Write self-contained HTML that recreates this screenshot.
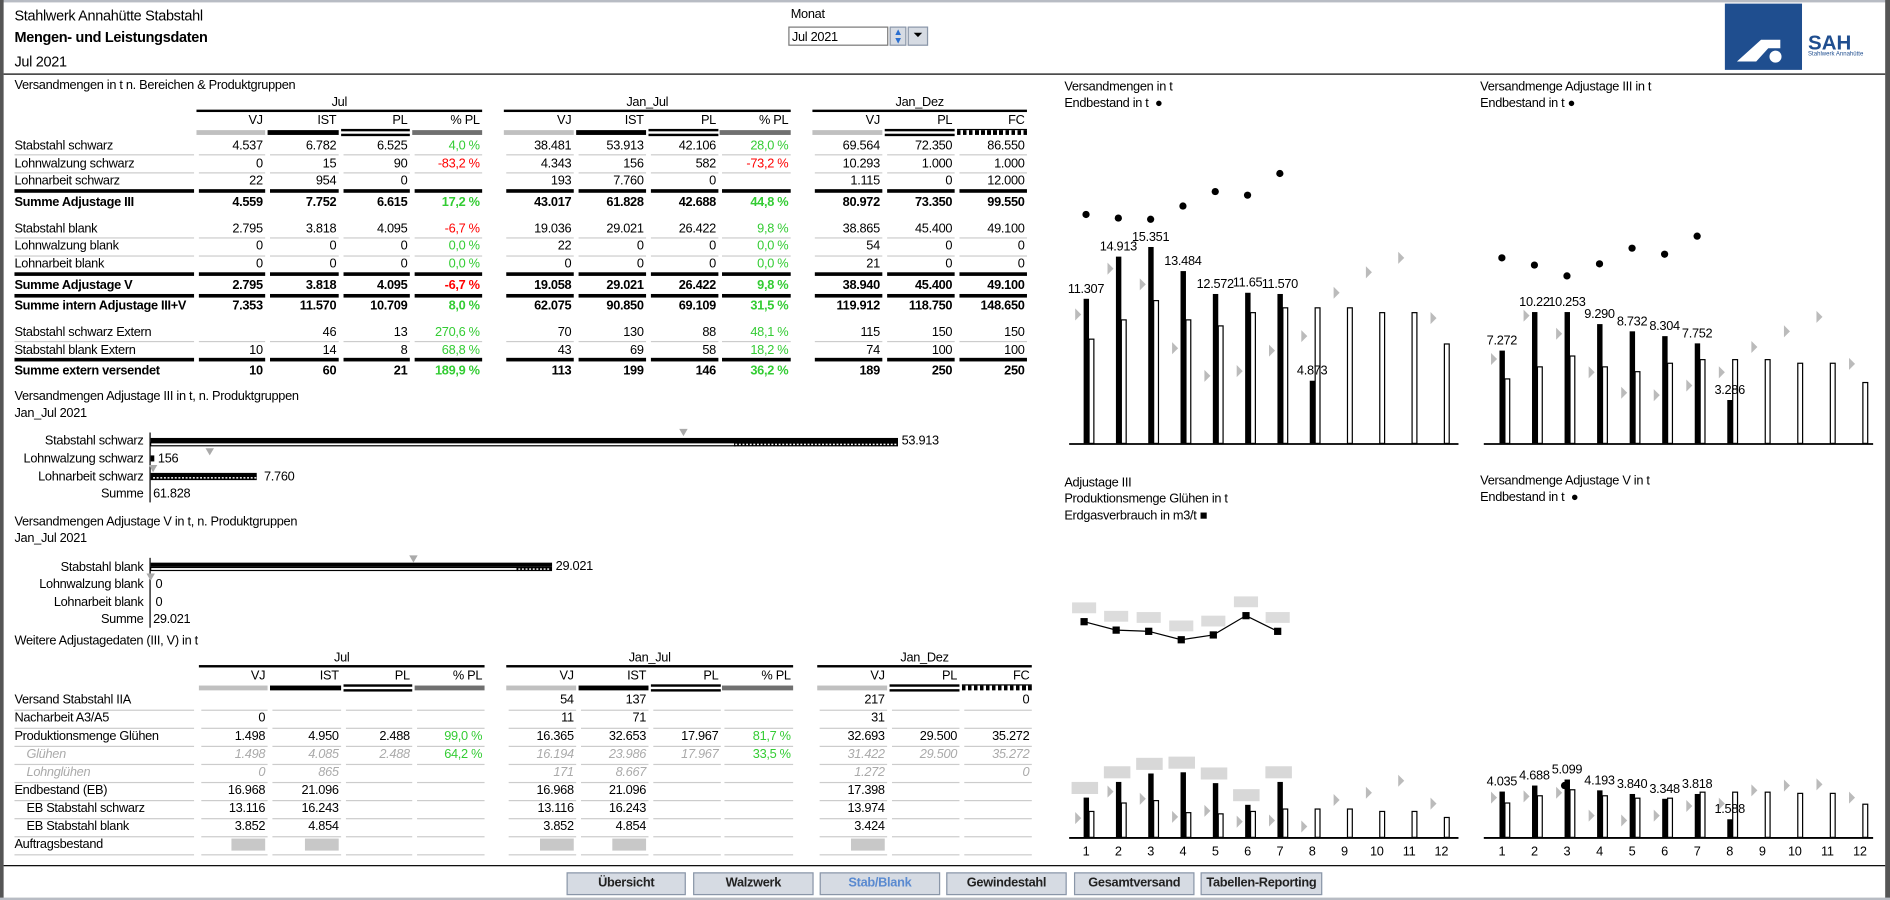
<!DOCTYPE html>
<html><head><meta charset="utf-8">
<style>
html,body{margin:0;padding:0;background:#fff;}
body{width:1890px;height:900px;overflow:hidden;position:relative;}
#s{position:absolute;left:0;top:0;width:1568px;height:747px;transform-origin:0 0;transform:scale(1.20536,1.20482);font-family:"Liberation Sans",Arial,sans-serif;font-size:10.6px;letter-spacing:-0.25px;color:#000;}
.t{position:absolute;white-space:nowrap;line-height:14px;height:14px;}
.r{text-align:right;}
.c{text-align:center;}
.b{font-weight:bold;}
.g{color:#33cc33;}
.rd{color:#ff0000;}
.it{font-style:italic;color:#aaa;}
.ln{position:absolute;}
.btn{position:absolute;top:724px;height:19px;background:#d6dbe3;border:1px solid #8a96a8;box-sizing:border-box;text-align:center;line-height:17px;font-weight:bold;font-size:10.6px;color:#222;white-space:nowrap;}
</style></head><body>
<div id="s">
<div class="ln" style="left:0;top:0;width:1568px;height:2px;background:#b8bcc4"></div>
<div class="ln" style="left:0;top:0;width:3px;height:747px;background:#555"></div>
<div class="ln" style="left:1564px;top:0;width:4px;height:747px;background:#555"></div>
<div class="ln" style="left:0;top:745px;width:1568px;height:2px;background:#b8bcc4"></div>
<div class="ln" style="left:3px;top:61px;width:1561px;height:1px;background:#000"></div>
<div class="ln" style="left:3px;top:718px;width:1561px;height:1px;background:#000"></div>

<div class="t" style="left:12px;top:6px;font-size:12px">Stahlwerk Annahütte Stabstahl</div>
<div class="t b" style="left:12px;top:24px;font-size:12px">Mengen- und Leistungsdaten</div>
<div class="t" style="left:12px;top:44px;font-size:12px">Jul 2021</div>
<div class="t" style="left:656px;top:5px;">Monat</div>
<div class="ln" style="left:654px;top:22px;width:83px;height:16px;border:1px solid #777;box-sizing:border-box;background:#fff"></div>
<div class="t" style="left:657px;top:24px">Jul 2021</div>
<div class="ln" style="left:738px;top:22px;width:14px;height:16px;background:#d6dbe3;border:1px solid #8a96a8;box-sizing:border-box;color:#2a6fd0;font-size:8px;line-height:7px;text-align:center">▲<br>▼</div>
<div class="ln" style="left:753px;top:22px;width:17px;height:16px;background:#d6dbe3;border:1px solid #8a96a8;box-sizing:border-box;font-size:10px;line-height:14px;text-align:center">⏷</div>
<div class="ln" style="left:1431px;top:3px;width:64px;height:55px;background:#1f4e8f"></div>
<svg class="ln" style="left:1431px;top:3px" width="64" height="55"><polygon points="10,48 30,30 46,30 46,37 36,37 26,48" fill="#fff"/><circle cx="42" cy="44" r="5" fill="#fff"/></svg>
<div class="t b" style="left:1500px;top:26px;font-size:17px;color:#1f4e8f;height:20px;line-height:20px;letter-spacing:0">SAH</div>
<div class="t" style="left:1500px;top:42px;font-size:5px;color:#1f4e8f;line-height:6px;letter-spacing:0">Stahlwerk Annahütte</div>

<div class="t" style="left:12px;top:64px">Versandmengen in t n. Bereichen &amp; Produktgruppen</div>
<div class="t" style="left:12px;top:322px">Versandmengen Adjustage III in t, n. Produktgruppen</div>
<div class="t" style="left:12px;top:336px">Jan_Jul 2021</div>
<div class="t" style="left:12px;top:426px">Versandmengen Adjustage V in t, n. Produktgruppen</div>
<div class="t" style="left:12px;top:440px">Jan_Jul 2021</div>
<div class="t" style="left:12px;top:525px">Weitere Adjustagedaten (III, V) in t</div>

<div class="t" style="left:883px;top:65px">Versandmengen in t</div>
<div class="t" style="left:883px;top:79px">Endbestand in t &nbsp;●</div>
<div class="t" style="left:1228px;top:65px">Versandmenge Adjustage III in t</div>
<div class="t" style="left:1228px;top:79px">Endbestand in t ●</div>
<div class="t" style="left:883px;top:394px">Adjustage III</div>
<div class="t" style="left:883px;top:407px">Produktionsmenge Glühen in t</div>
<div class="t" style="left:883px;top:421px">Erdgasverbrauch in m3/t ■</div>
<div class="t" style="left:1228px;top:392px">Versandmenge Adjustage V in t</div>
<div class="t" style="left:1228px;top:406px">Endbestand in t &nbsp;●</div>

<div class="btn" style="left:470px;width:99px">Übersicht</div>
<div class="btn" style="left:575px;width:100px">Walzwerk</div>
<div class="btn" style="left:680px;width:100px;color:#5a8ad0">Stab/Blank</div>
<div class="btn" style="left:785px;width:100px">Gewindestahl</div>
<div class="btn" style="left:891px;width:100px">Gesamtversand</div>
<div class="btn" style="left:996px;width:101px">Tabellen-Reporting</div>

<svg id="ch" class="ln" style="left:0;top:0" width="1568" height="747"></svg>
</div>
<script>
var S=document.getElementById('s');
function T(x,y,txt,cls,w){var d=document.createElement('div');d.className='t '+(cls||'');d.style.top=(y-7)+'px';d.style.left=x+'px';if(w)d.style.width=w+'px';d.textContent=txt;S.appendChild(d);return d;}
function L(x,y,w,h,bg){var d=document.createElement('div');d.className='ln';d.style.cssText='left:'+x+'px;top:'+y+'px;width:'+w+'px;height:'+h+'px;background:'+bg;S.appendChild(d);return d;}
function table(cols,groups,y0,rows){
  groups.forEach(function(g){L(g[0],y0+6,g[1]-g[0],2,'#000');T(g[0],y0,g[2],'c',g[1]-g[0]);});
  var hd=['VJ','IST','PL','% PL','VJ','IST','PL','% PL','VJ','PL','FC'];
  var st=['v','i','p','q','v','i','p','q','v','p','f'];
  cols.forEach(function(c,k){T(c[0],y0+15,hd[k],'r',c[1]-c[0]-2);
    var by=y0+23,w=c[1]-c[0];
    if(st[k]=='v')L(c[0],by,w,4,'#c0c0c0');
    if(st[k]=='i')L(c[0],by,w,4,'#000');
    if(st[k]=='q')L(c[0],by,w,4,'#707070');
    if(st[k]=='p'){L(c[0],by-1,w,2,'#000');L(c[0],by+3,w,2,'#000');}
    if(st[k]=='f'){L(c[0],by,w,4,'repeating-linear-gradient(90deg,#000 0 3px,#fff 3px 5px)');L(c[0],by-1,w,1,'#000');}
  });
  rows.forEach(function(r){
    var y=r[0],cls=r[3]||'';
    T(12+(r[4]||0),y,r[1],cls);
    r[2].forEach(function(v,k){if(v==='')return;var c=cols[k];
      if(v==='#'){L(c[1]-30,y-5,28,10,'#c8c8c8');return;}
      var cc=cls;if(k==3||k==7){ if(v.charAt(0)=='-')cc+=' rd';else cc=cc.replace('it','')+' g';}
      T(c[0],y,v,'r '+cc,c[1]-c[0]-2);});
    if(r[5]){var yy=y+7.5;var thick=r[5]=='k';
      L(12,yy-(thick?1:0),149,thick?3:1,thick?'#000':'#ccc');
      cols.forEach(function(c){L(c[0]+2,yy-(thick?1:0),c[1]-c[0]-2,thick?3:1,thick?'#000':'#ccc');});}
  });
}
var c1=[[163,220],[222,281],[283,340],[342,400],[418,476],[478,536],[538,596],[597,656],[674,732],[734,792],[794,852]];
table(c1,[[163,400,'Jul'],[418,656,'Jan_Jul'],[674,852,'Jan_Dez']],85,[
[120.5,'Stabstahl schwarz',['4.537','6.782','6.525','4,0 %','38.481','53.913','42.106','28,0 %','69.564','72.350','86.550'],'',0,'t'],
[135.5,'Lohnwalzung schwarz',['0','15','90','-83,2 %','4.343','156','582','-73,2 %','10.293','1.000','1.000'],'',0,'t'],
[150,'Lohnarbeit schwarz',['22','954','0','','193','7.760','0','','1.115','0','12.000'],'',0,'k'],
[168,'Summe Adjustage III',['4.559','7.752','6.615','17,2 %','43.017','61.828','42.688','44,8 %','80.972','73.350','99.550'],'b',0,''],
[189.5,'Stabstahl blank',['2.795','3.818','4.095','-6,7 %','19.036','29.021','26.422','9,8 %','38.865','45.400','49.100'],'',0,'t'],
[204,'Lohnwalzung blank',['0','0','0','0,0 %','22','0','0','0,0 %','54','0','0'],'',0,'t'],
[219,'Lohnarbeit blank',['0','0','0','0,0 %','0','0','0','0,0 %','21','0','0'],'',0,'k'],
[237,'Summe Adjustage V',['2.795','3.818','4.095','-6,7 %','19.058','29.021','26.422','9,8 %','38.940','45.400','49.100'],'b',0,'k'],
[254,'Summe intern Adjustage III+V',['7.353','11.570','10.709','8,0 %','62.075','90.850','69.109','31,5 %','119.912','118.750','148.650'],'b',0,''],
[275.5,'Stabstahl schwarz Extern',['','46','13','270,6 %','70','130','88','48,1 %','115','150','150'],'',0,'t'],
[290.5,'Stabstahl blank Extern',['10','14','8','68,8 %','43','69','58','18,2 %','74','100','100'],'',0,'k'],
[308,'Summe extern versendet',['10','60','21','189,9 %','113','199','146','36,2 %','189','250','250'],'b',0,'']
]);
var c2=c1.map(function(c,k){var d=k<8?2:4;return [c[0]+d,c[1]+d];});
var y=581.3;function R(){var v=y;y+=15;return v;}
table(c2,[[165,402,'Jul'],[420,658,'Jan_Jul'],[678,856,'Jan_Dez']],546,[
[R(),'Versand Stabstahl IIA',['','','','','54','137','','','217','','0'],'',0,'t'],
[R(),'Nacharbeit A3/A5',['0','','','','11','71','','','31','',''],'',0,'t'],
[R(),'Produktionsmenge Glühen',['1.498','4.950','2.488','99,0 %','16.365','32.653','17.967','81,7 %','32.693','29.500','35.272'],'',0,'t'],
[R(),'Glühen',['1.498','4.085','2.488','64,2 %','16.194','23.986','17.967','33,5 %','31.422','29.500','35.272'],'it',10,'t'],
[R(),'Lohnglühen',['0','865','','','171','8.667','','','1.272','','0'],'it',10,'t'],
[R(),'Endbestand (EB)',['16.968','21.096','','','16.968','21.096','','','17.398','',''],'',0,'t'],
[R(),'EB Stabstahl schwarz',['13.116','16.243','','','13.116','16.243','','','13.974','',''],'',10,'t'],
[R(),'EB Stabstahl blank',['3.852','4.854','','','3.852','4.854','','','3.424','',''],'',10,'t'],
[R(),'Auftragsbestand',['#','#','','','#','#','','','#','',''],'',0,'t']
]);
T(0,366,'Stabstahl schwarz','r',119);T(0,380.5,'Lohnwalzung schwarz','r',119);T(0,395.5,'Lohnarbeit schwarz','r',119);T(0,409.5,'Summe','r',119);
T(0,470.5,'Stabstahl blank','r',119);T(0,484.5,'Lohnwalzung blank','r',119);T(0,499.5,'Lohnarbeit blank','r',119);T(0,513.5,'Summe','r',119);
T(748,365.5,'53.913');T(131,380.5,'156');T(219,395.5,'7.760');T(127,409.5,'61.828');
T(461,470,'29.021');T(129,484.5,'0');T(129,499.5,'0');T(127,513.5,'29.021');
var H='';
function ln(x1,y1,x2,y2,c,w){H+='<line x1="'+x1+'" y1="'+y1+'" x2="'+x2+'" y2="'+y2+'" stroke="'+(c||'#000')+'" stroke-width="'+(w||1)+'"/>';}
function rc(x,y,w,h,f,s){H+='<rect x="'+x+'" y="'+y+'" width="'+w+'" height="'+h+'" fill="'+f+'"'+(s?' stroke="'+s+'" stroke-width="1"':'')+'/>';}
function hatch(x,y,w,h){rc(x,y,w,h,'#000');for(var i=x+1;i<x+w-1;i+=3)rc(i,y+h/2-0.5,1.6,1.2,'#fff');}
function dtri(x,y){H+='<polygon points="'+(x-3.5)+','+y+' '+(x+3.5)+','+y+' '+x+','+(y+6)+'" fill="#aaa"/>';}
function tx(x,y,s){H+='<text x="'+x+'" y="'+y+'" font-family="Liberation Sans, Arial, sans-serif" font-size="10.6" letter-spacing="-0.25" text-anchor="middle" fill="#000">'+s+'</text>';}
ln(124.5,359,124.5,417);
rc(125,363.5,620,4,'#000');rc(125,367.5,485,2.5,'#fff','#000');hatch(609,367,136,3.5);dtri(567,356);
rc(125,378,3,5,'#000');dtri(174,372);
rc(125,392.5,88,6,'#000');for(var i=127;i<212;i+=3)rc(i,396,1.6,1.2,'#fff');dtri(127,386);
ln(124.5,463,124.5,521);
rc(125,467,333,3.5,'#000');rc(125,471,304,2.5,'#fff','#000');hatch(429,470.5,29,3.5);dtri(343,461);dtri(125,476);
function chart(o){
  ln(o.a0,o.base+0.5,o.a1,o.base+0.5,'#000',1.5);
  for(var i=0;i<12;i++){var x=o.x0+i*o.sp;
    if(o.w[i])rc(x+4.5,o.base-o.w[i]+0.5,4,o.w[i]-0.5,'#fff','#000');
    if(o.b[i]!=null)rc(x,o.base-o.b[i],4.5,o.b[i],'#000');
    if(o.tr[i]!=null){var ty=o.base-o.tr[i];H+='<polygon points="'+(x-7)+','+(ty-5)+' '+(x-7)+','+(ty+5)+' '+(x-2)+','+ty+'" fill="#bbb"/>';}
    if(o.d&&o.d[i]!=null)H+='<circle cx="'+(x+2)+'" cy="'+(o.base-o.d[i])+'" r="3" fill="#000"/>';
    if(o.lb&&o.lb[i])tx(x+2,o.base-o.b[i]-5,o.lb[i]);
    if(o.blur&&o.b[i]!=null)rc(x-10,o.base-o.b[i]-13,22,10,'#d8d8d8');
    if(o.m)tx(x+2,o.base+15,''+(i+1));
  }
}
chart({x0:899,sp:26.8,base:368,a0:887,a1:1210,
 b:[120,155,163,143,124,125,124,52],
 w:[87,103,119,103,98,109,113,113,113,109,109,83],
 tr:[107,145,132,79,56,60,77,89,125,142,154,104],
 d:[190,187,186,197,209,206,224],
 lb:['11.307','14.913','15.351','13.484','12.572','11.65','11.570','4.873']});
chart({x0:1244,sp:27,base:368,a0:1231,a1:1554,
 b:[77,109,109,99,93,89,83,36],
 w:[54,64,73,64,60,67,70,70,70,67,67,51],
 tr:[70,106,91,59,42,40,48,59,80,93,105,66],
 d:[154,148,139,149,162,157,172],
 lb:['7.272','10.22','10.253','9.290','8.732','8.304','7.752','3.286']});
chart({x0:899,sp:26.8,base:695,a0:887,a1:1210,m:1,blur:1,
 b:[33,46,53,54,45,27,46],
 w:[22,29,31,21,20,22,24,24,24,22,22,17],
 tr:[16,38,32,17,22,13,14,9,31,37,47,28]});
chart({x0:1244,sp:27,base:695,a0:1231,a1:1554,m:1,
 b:[38,43,48,39,36,32,36,15],
 w:[29,35,40,35,33,33,38,38,38,37,37,28],
 tr:[33,34,37,18,14,18,26,28,39,43,44,33],
 lb:['4.035','4.688','5.099','4.193','3.840','3.348','3.818','1.588']});
H+='<circle cx="1298" cy="652" r="3" fill="#000"/>';
var px=[899.4,926,953,980,1006.6,1033.7,1060],py=[516,523,524,531,527,511,524];
var p='';for(var i=0;i<7;i++)p+=px[i]+','+py[i]+' ';
H+='<polyline points="'+p+'" fill="none" stroke="#000" stroke-width="1"/>';
for(var i=0;i<7;i++){rc(px[i]-3,py[i]-3,6,6,'#000');rc(px[i]-10,py[i]-16,20,9,'#dcdcdc');}
document.getElementById('ch').innerHTML=H;
</script>
</body></html>
